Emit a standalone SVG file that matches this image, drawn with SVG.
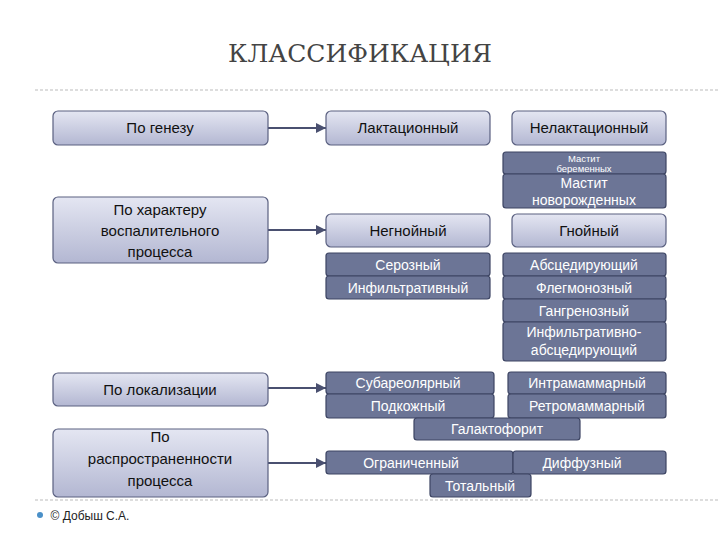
<svg xmlns="http://www.w3.org/2000/svg" width="720" height="540" viewBox="0 0 720 540">
<defs>
<linearGradient id="lg" x1="0" y1="0" x2="0" y2="1"><stop offset="0" stop-color="#e4e6f2"/><stop offset="1" stop-color="#b3b7d2"/></linearGradient>
<marker id="ar" viewBox="0 0 6 6" refX="6" refY="3" markerWidth="5" markerHeight="5" orient="auto"><path d="M0,0L6,3L0,6z" fill="#4a5070"/></marker>
</defs>
<style>
.l{fill:url(#lg);stroke:#5a6080;stroke-width:1.2}
.d{fill:#6c7596;stroke:#3c4463;stroke-width:1.2}
text{font-family:"Liberation Sans",Arial,sans-serif;text-anchor:middle}
.lt{fill:#111;font-size:15px}
.dt{fill:#fff;font-size:14px}
.cn{stroke:#4a5070;stroke-width:2;fill:none}
</style>
<rect width="720" height="540" fill="#fff"/>
<text x="360" y="62" style="font-family:'DejaVu Serif',serif;font-size:25px;fill:#444">КЛАССИФИКАЦИЯ</text>
<line x1="35" y1="90" x2="720" y2="90" stroke="#bbb" stroke-dasharray="3,2"/>
<line x1="35" y1="500" x2="720" y2="500" stroke="#bbb" stroke-dasharray="3,2"/>
<circle cx="40" cy="515" r="3" fill="#4a90c8"/>
<text x="90" y="520" style="font-size:12px;fill:#222">© Добыш С.А.</text>
<g id="connectors">
<line class="cn" x1="268" y1="128" x2="326" y2="128" marker-end="url(#ar)"/>
<line class="cn" x1="268" y1="230" x2="326" y2="230" marker-end="url(#ar)"/>
<line class="cn" x1="268" y1="388" x2="326" y2="388" marker-end="url(#ar)"/>
<line class="cn" x1="268" y1="463" x2="326" y2="463" marker-end="url(#ar)"/>
</g>
<g id="n-genez"><rect class="l" x="53" y="111" width="215" height="34" rx="5"/><text class="lt" x="160" y="133">По генезу</text></g>
<g id="n-har"><rect class="l" x="53" y="197" width="215" height="66" rx="5"/><text class="lt" x="160" y="215">По характеру</text><text class="lt" x="160" y="236">воспалительного</text><text class="lt" x="160" y="257">процесса</text></g>
<g id="n-lok"><rect class="l" x="53" y="373" width="215" height="33" rx="5"/><text class="lt" x="160" y="395">По локализации</text></g>
<g id="n-rasp"><rect class="l" x="53" y="429" width="215" height="68" rx="5"/><text class="lt" x="160" y="442">По</text><text class="lt" x="160" y="464">распространенности</text><text class="lt" x="160" y="486">процесса</text></g>
<g id="n-lakt"><rect class="l" x="326" y="111" width="164" height="34" rx="5"/><text class="lt" x="408" y="133">Лактационный</text></g>
<g id="n-nelakt"><rect class="l" x="512" y="111" width="154" height="34" rx="5"/><text class="lt" x="589" y="133">Нелактационный</text></g>
<g id="n-mb"><rect class="d" x="503" y="152" width="163" height="22" rx="3"/><text class="dt" x="584" y="162" style="font-size:9.5px">Мастит</text><text class="dt" x="584" y="172" style="font-size:9.5px">беременных</text></g>
<g id="n-mn"><rect class="d" x="503" y="174" width="163" height="34" rx="3"/><text class="dt" x="584" y="188">Мастит</text><text class="dt" x="584" y="205">новорожденных</text></g>
<g id="n-negn"><rect class="l" x="326" y="214" width="164" height="33" rx="5"/><text class="lt" x="408" y="236">Негнойный</text></g>
<g id="n-gn"><rect class="l" x="512" y="214" width="154" height="33" rx="5"/><text class="lt" x="589" y="236">Гнойный</text></g>
<g id="n-ser"><rect class="d" x="326" y="253" width="164" height="23" rx="3"/><text class="dt" x="408" y="270">Серозный</text></g>
<g id="n-inf"><rect class="d" x="326" y="276" width="164" height="23" rx="3"/><text class="dt" x="408" y="293">Инфильтративный</text></g>
<g id="n-abs"><rect class="d" x="503" y="253" width="163" height="23" rx="3"/><text class="dt" x="584" y="270">Абсцедирующий</text></g>
<g id="n-fl"><rect class="d" x="503" y="276" width="163" height="23" rx="3"/><text class="dt" x="584" y="293">Флегмонозный</text></g>
<g id="n-gan"><rect class="d" x="503" y="299" width="163" height="23" rx="3"/><text class="dt" x="584" y="316">Гангренозный</text></g>
<g id="n-ia"><rect class="d" x="503" y="322" width="163" height="39" rx="3"/><text class="dt" x="584" y="337">Инфильтративно-</text><text class="dt" x="584" y="355">абсцедирующий</text></g>
<g id="n-sub"><rect class="d" x="326" y="372" width="168" height="22" rx="3"/><text class="dt" x="408" y="388">Субареолярный</text></g>
<g id="n-pod"><rect class="d" x="326" y="394" width="168" height="24" rx="3"/><text class="dt" x="408" y="411">Подкожный</text></g>
<g id="n-intr"><rect class="d" x="508" y="372" width="158" height="22" rx="3"/><text class="dt" x="587" y="388">Интрамаммарный</text></g>
<g id="n-retr"><rect class="d" x="508" y="394" width="158" height="24" rx="3"/><text class="dt" x="587" y="411">Ретромаммарный</text></g>
<g id="n-gal"><rect class="d" x="414" y="418" width="166" height="22" rx="3"/><text class="dt" x="497" y="434">Галактофорит</text></g>
<g id="n-ogr"><rect class="d" x="326" y="451" width="187" height="23" rx="3"/><text class="dt" x="411" y="468">Ограниченный</text></g>
<g id="n-dif"><rect class="d" x="513" y="451" width="153" height="23" rx="3"/><text class="dt" x="582" y="468">Диффузный</text></g>
<g id="n-tot"><rect class="d" x="430" y="474" width="101" height="23" rx="3"/><text class="dt" x="480" y="491">Тотальный</text></g>
</svg>
